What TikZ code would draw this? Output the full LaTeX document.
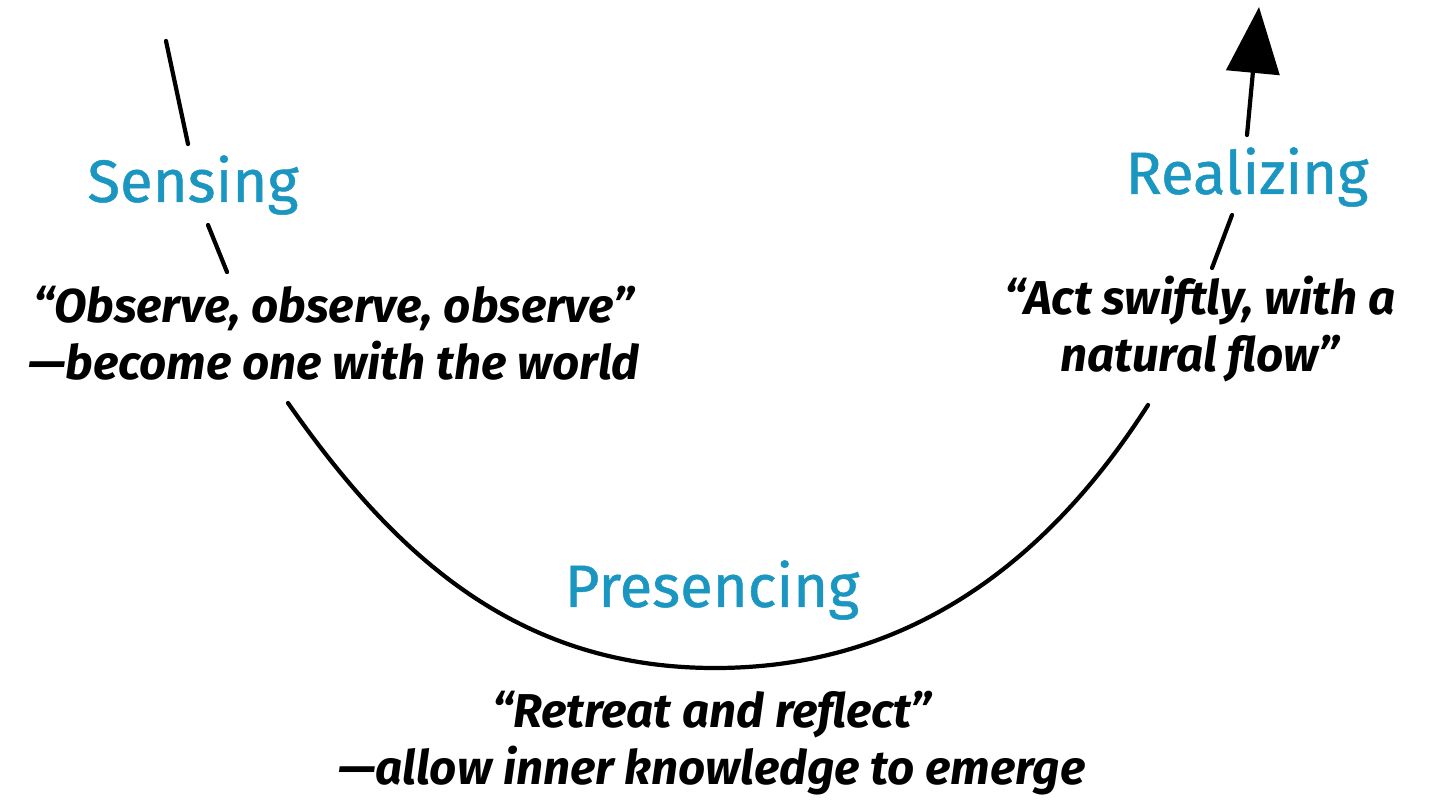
\documentclass[tikz,border=0pt]{standalone}
\usepackage{fontspec}
\setmainfont{Fira Sans}
\newfontfamily\headfont{Fira Sans}[FakeBold=0.8]
\usetikzlibrary{arrows.meta}
\definecolor{headblue}{RGB}{27,150,192}
\tikzset{
  curve/.style={line width=1.2pt, black, line cap=round},
  head/.style={text=headblue, font=\headfont\fontsize{17}{20}\selectfont, inner sep=0pt},
  quote/.style={font=\fontsize{13.5}{16.2}\selectfont\bfseries\itshape, align=center, inner sep=0pt}
}
\begin{document}
\begin{tikzpicture}[x=0.01cm,y=-0.01cm]
\useasboundingbox (0,0) rectangle (1434,800);
% curve pieces
\coordinate (l1a) at (166,41);
\coordinate (l1b) at (188,144);
\coordinate (l2a) at (208,225);
\coordinate (l2b) at (227,272);
\coordinate (ma) at (288,403);
\coordinate (mbot) at (715,668);
\coordinate (mb) at (1148,405);
\coordinate (r2a) at (1212,268);
\coordinate (r2b) at (1232,215);
\coordinate (r1a) at (1247,135);
\coordinate (tip) at (1259,7);
\draw[curve] (l1a) -- (l1b);
\draw[curve] (l2a) -- (l2b);
\draw[curve] (ma) .. controls (393,553) and (515,668) .. (mbot)
                  .. controls (915,668) and (1052,555) .. (mb);
\draw[curve] (r2a) -- (r2b);
\draw[curve, -{Triangle[length=0.66cm, width=0.53cm]}] (r1a) -- (tip);
% labels
\node[head] (sensing) at (193,185) {Sensing};
\node[head] (realizing) at (1247,177) {Realizing};
\node[head] (presencing) at (712,590) {Presencing};
\node[quote] (q1) at (334,333) {“Observe, observe, observe”\\—become one with the world};
\node[quote] (q2) at (1200,329) {“Act swiftly, with a\\natural flow”};
\node[quote] (q3) at (712,743) {“Retreat and reflect”\\—allow inner knowledge to emerge};
\end{tikzpicture}
\end{document}
